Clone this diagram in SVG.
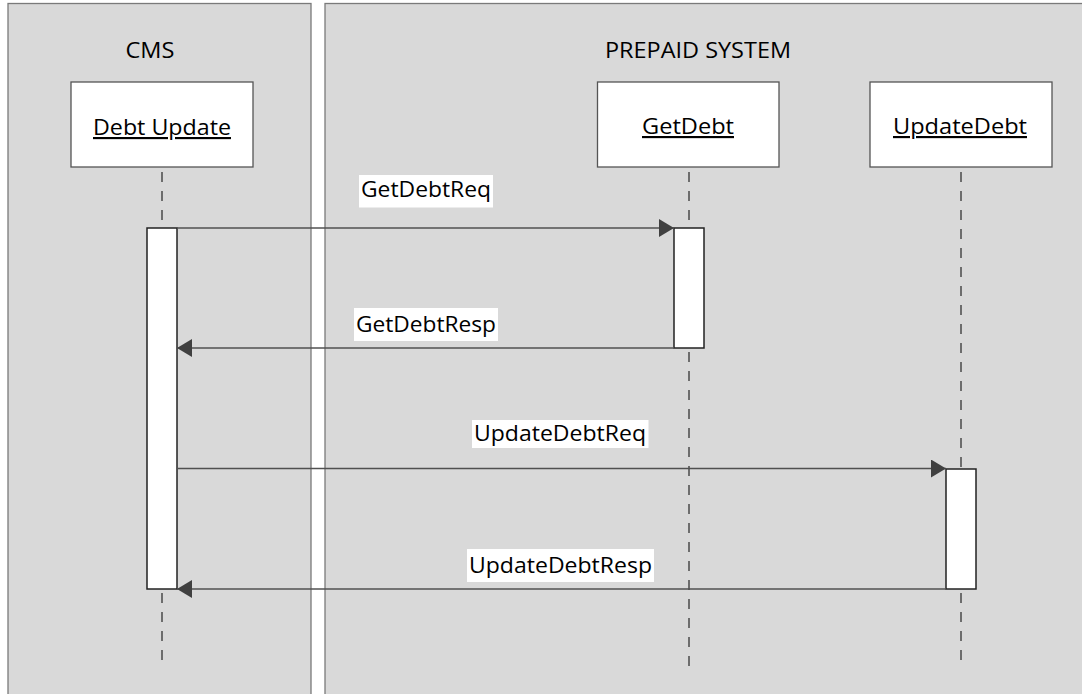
<svg xmlns="http://www.w3.org/2000/svg" width="1082" height="694" viewBox="0 0 1082 694">
<style>
.lane{fill:#d9d9d9;stroke:#7a7a7a;stroke-width:1.3}
.box{fill:#ffffff;stroke:#555555;stroke-width:1.3}
.act{fill:#ffffff;stroke:#222222;stroke-width:1.5}
.life{stroke:#4a4a4a;stroke-width:1.5;stroke-dasharray:10 9;fill:none}
.msg{stroke:#505050;stroke-width:1.5;fill:none}
.lbg{fill:#ffffff}
text{font-family:"Open Sans","Noto Sans",sans-serif;fill:#000000}
.t{font-size:21.5px}
.h{font-size:22px}
</style>
<defs>
<marker id="ah" markerWidth="16" markerHeight="18" refX="15" refY="9" orient="auto" markerUnits="userSpaceOnUse">
<path d="M0,0 L15,9 L0,18 z" fill="#404040"/>
</marker>
</defs>
<rect width="1082" height="694" fill="#ffffff"/>
<g id="lane-cms">
<rect class="lane" x="8" y="3.5" width="303" height="700"/>
<text class="h" x="150" y="57.5" text-anchor="middle" textLength="49" lengthAdjust="spacingAndGlyphs">CMS</text>
</g>
<g id="lane-prepaid">
<rect class="lane" x="325" y="3.5" width="770" height="700"/>
<text class="h" x="698" y="57.5" text-anchor="middle" textLength="186" lengthAdjust="spacingAndGlyphs">PREPAID SYSTEM</text>
</g>
<g id="lifelines">
<line class="life" x1="162" y1="172" x2="162" y2="228"/>
<line class="life" x1="162" y1="593" x2="162" y2="668"/>
<line class="life" x1="689" y1="172" x2="689" y2="228"/>
<line class="life" x1="689" y1="352" x2="689" y2="668"/>
<line class="life" x1="961" y1="172" x2="961" y2="469"/>
<line class="life" x1="961" y1="593" x2="961" y2="668"/>
</g>
<g id="node-debt-update">
<rect class="box" x="71" y="82" width="182" height="85"/>
<text class="t" x="162" y="135" text-anchor="middle" textLength="138" lengthAdjust="spacingAndGlyphs" text-decoration="underline">Debt Update</text>
</g>
<g id="node-getdebt">
<rect class="box" x="597.5" y="82" width="181.5" height="85"/>
<text class="t" x="688" y="134" text-anchor="middle" textLength="92" lengthAdjust="spacingAndGlyphs" text-decoration="underline">GetDebt</text>
</g>
<g id="node-updatedebt">
<rect class="box" x="870" y="82" width="182" height="85"/>
<text class="t" x="960" y="134" text-anchor="middle" textLength="134" lengthAdjust="spacingAndGlyphs" text-decoration="underline">UpdateDebt</text>
</g>
<g id="activations">
<rect class="act" x="147" y="228" width="30" height="361"/>
<rect class="act" x="674" y="228" width="30" height="120"/>
<rect class="act" x="946" y="469" width="30" height="120"/>
</g>
<g id="connectors">
<line class="msg" x1="177" y1="228" x2="674" y2="228" marker-end="url(#ah)"/>
<line class="msg" x1="674" y1="348" x2="177" y2="348" marker-end="url(#ah)"/>
<line class="msg" x1="177" y1="468.5" x2="946" y2="468.5" marker-end="url(#ah)"/>
<line class="msg" x1="946" y1="589" x2="177" y2="589" marker-end="url(#ah)"/>
<rect class="lbg" x="359" y="175" width="134" height="32.5"/>
<text class="t" x="426" y="197" text-anchor="middle" textLength="130" lengthAdjust="spacingAndGlyphs">GetDebtReq</text>
<rect class="lbg" x="354" y="308" width="144" height="33"/>
<text class="t" x="426" y="332" text-anchor="middle" textLength="140" lengthAdjust="spacingAndGlyphs">GetDebtResp</text>
<rect class="lbg" x="472" y="420" width="176.5" height="28"/>
<text class="t" x="560" y="441" text-anchor="middle" textLength="172" lengthAdjust="spacingAndGlyphs">UpdateDebtReq</text>
<rect class="lbg" x="467" y="549" width="187" height="33"/>
<text class="t" x="560.5" y="573" text-anchor="middle" textLength="183" lengthAdjust="spacingAndGlyphs">UpdateDebtResp</text>
</g>
</svg>
